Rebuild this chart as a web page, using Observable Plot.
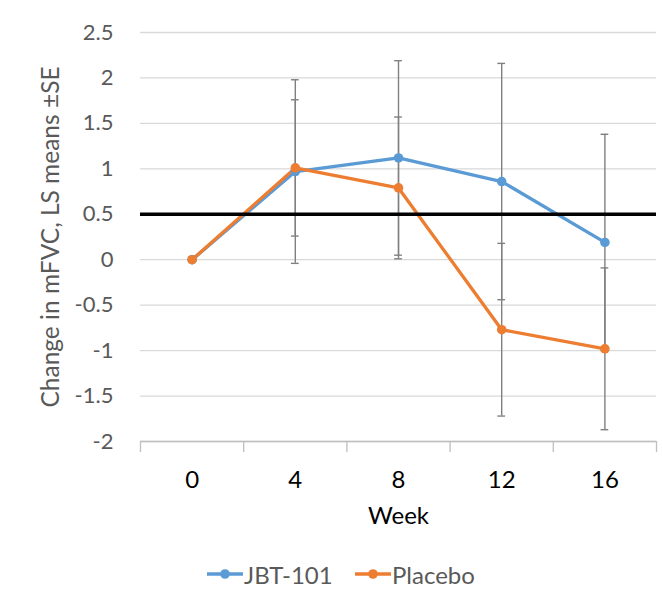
<!DOCTYPE html>
<html><head><meta charset="utf-8">
<script src="https://cdn.jsdelivr.net/npm/d3@7"></script>
<script src="https://cdn.jsdelivr.net/npm/@observablehq/plot@0.6"></script>
<style>
body{margin:0;background:#fff;font-family:Lato,"Noto Sans",sans-serif;}
#chart svg{display:block;}
#legend{position:relative;height:60px;font-size:24px;color:#595959;}
.item{position:absolute;top:14px;display:flex;align-items:center;height:30px;}
.item svg{margin-right:1px;}
</style></head><body><div id="chart"></div><div id="legend"></div>
<script>
const weeks = [0, 4, 8, 12, 16];
const seriesNames = ["JBT-101", "Placebo"];
const jbtMean = [0, 0.97, 1.12, 0.86, 0.19];
const jbtSE = [0, 1.01, 1.07, 1.30, 1.19];
const placeboMean = [0, 1.01, 0.79, -0.77, -0.98];
const placeboSE = [0, 0.75, 0.78, 0.95, 0.89];
const yTicks = [-2, -1.5, -1, -0.5, 0, 0.5, 1, 1.5, 2, 2.5];
const threshold = 0.5;
const colors = ["#5B9BD5", "#ED7D31"];
const yTitle = "Change in mFVC, LS means ±SE";
const xTitle = "Week";

const rows = [];
[[jbtMean, jbtSE], [placeboMean, placeboSE]].forEach(([m, s], i) => {
  weeks.forEach((w, j) => rows.push({series: seriesNames[i], week: w, mean: m[j], se: s[j]}));
});
const errRows = rows.filter(d => d.se > 0);
const capRows = errRows.flatMap(d => [{week: d.week, y: d.mean - d.se}, {week: d.week, y: d.mean + d.se}]);
const boundaries = weeks.map(w => w - 2).concat([weeks[weeks.length - 1] + 2]);

const chart = Plot.plot({
  width: 662, height: 545,
  marginLeft: 140, marginRight: 6, marginTop: 32, marginBottom: 104,
  style: {fontFamily: "Lato, 'Noto Sans', sans-serif", background: "#fff"},
  x: {domain: [boundaries[0], boundaries[boundaries.length - 1]]},
  y: {domain: [-2, 2.5]},
  color: {domain: seriesNames, range: colors},
  marks: [
    Plot.gridY(yTicks, {stroke: "#d9d9d9", strokeOpacity: 1, strokeWidth: 1.3}),
    Plot.ruleY([-2], {stroke: "#bfbfbf", strokeWidth: 1.3}),
    Plot.axisX(boundaries, {tickSize: 11, tickFormat: () => "", stroke: "#bfbfbf", strokeWidth: 1.3, label: null}),
    Plot.axisX(weeks, {tickSize: 0, tickPadding: 29, fontSize: 24, fill: "#000", tickFormat: d => String(d), label: null}),
    Plot.axisY(yTicks, {tickSize: 0, tickPadding: 27, fontSize: 22, fill: "#595959", tickFormat: d => String(d), label: null}),
    Plot.text([yTitle], {frameAnchor: "left", textAnchor: "middle", lineAnchor: "middle", rotate: -90, dx: -89, dy: 0, fontSize: 24.5, fill: "#595959"}),
    Plot.text([xTitle], {frameAnchor: "bottom", lineAnchor: "middle", dy: 75, fontSize: 24, fill: "#000"}),
    Plot.ruleX(errRows, {x: "week", y1: d => d.mean - d.se, y2: d => d.mean + d.se, stroke: "#808080", strokeWidth: 1.4}),
    Plot.ruleY(capRows, {y: "y", x1: d => d.week - 0.15, x2: d => d.week + 0.15, stroke: "#808080", strokeWidth: 1.4}),
    Plot.line(rows, {x: "week", y: "mean", stroke: "series", strokeWidth: 3.3}),
    Plot.dot(rows, {x: "week", y: "mean", fill: "series", r: 4.8}),
    Plot.ruleY([threshold], {stroke: "#000", strokeWidth: 3.5})
  ]
});
document.getElementById("chart").appendChild(chart);

const legend = document.getElementById("legend");
const legendLeft = [207, 355];
seriesNames.forEach((name, i) => {
  const item = document.createElement("div");
  item.className = "item";
  item.style.left = legendLeft[i] + "px";
  item.innerHTML = `<svg width="36" height="12"><line x1="0" y1="6" x2="36" y2="6" stroke="${colors[i]}" stroke-width="3.3"/><circle cx="18" cy="6" r="4.8" fill="${colors[i]}"/></svg><span>${name}</span>`;
  legend.appendChild(item);
});
</script>
</body></html>
